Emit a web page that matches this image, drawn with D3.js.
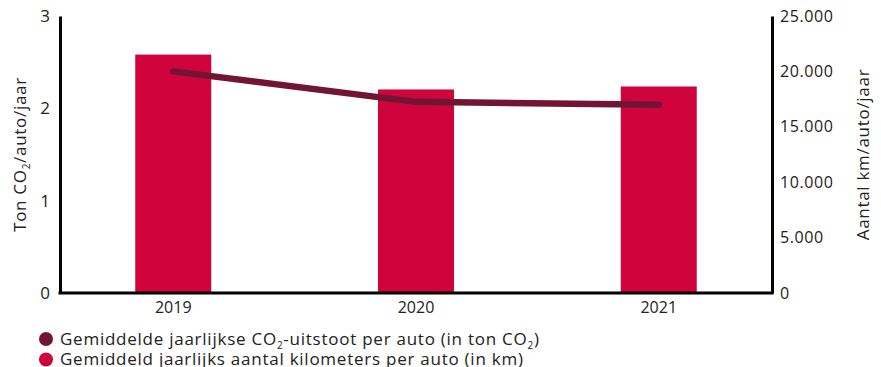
<!DOCTYPE html>
<html>
<head>
<meta charset="utf-8">
<script src="https://cdn.jsdelivr.net/npm/d3@7"></script>
<style>
  body { margin: 0; background: #fff; }
  svg text { font-family: "Open Sans", "Noto Sans", sans-serif; fill: #222; }
</style>
</head>
<body>
<div id="chart"></div>
<script>
// data
var years = ["2019", "2020", "2021"];
var kmPerCar = [21520, 18370, 18640];     // bars, right axis
var co2PerCar = [2.40, 2.07, 2.04];       // line, left axis
var leftTicks = [0, 1, 2, 3];
var rightTicks = [0, 5000, 10000, 15000, 20000, 25000];

const width = 881, height = 367;
const margin = {top: 16, right: 109, bottom: 74, left: 60};
const barColor = "#d0043c", lineColor = "#721535";

var svg = d3.select("#chart").append("svg")
  .attr("width", width)
  .attr("height", height);

var x = d3.scaleBand()
  .domain(years)
  .range([margin.left, width - margin.right])
  .paddingInner(0.687)
  .paddingOuter(0.31);

var yLeft = d3.scaleLinear().domain([0, 3]).range([height - margin.bottom, margin.top]);
var yRight = d3.scaleLinear().domain([0, 25000]).range([height - margin.bottom, margin.top]);

var fmt = function(d) { return d3.format(",")(d).replace(/,/g, "."); };

// bars
svg.append("g")
  .selectAll("rect")
  .data(years)
  .enter()
  .append("rect")
    .attr("x", function(d) { return x(d); })
    .attr("y", function(d, i) { return yRight(kmPerCar[i]); })
    .attr("width", x.bandwidth())
    .attr("height", function(d, i) { return yRight(0) - yRight(kmPerCar[i]); })
    .attr("fill", barColor);

// line
var line = d3.line()
  .x(function(d, i) { return x(years[i]) + x.bandwidth() / 2; })
  .y(function(d) { return yLeft(d); });

svg.append("path")
  .datum(co2PerCar)
  .attr("d", line)
  .attr("fill", "none")
  .attr("stroke", lineColor)
  .attr("stroke-width", 6.5)
  .attr("stroke-linecap", "round")
  .attr("stroke-linejoin", "round");

// axes
var axLeft = svg.append("g")
  .attr("transform", "translate(" + margin.left + ",0)")
  .call(d3.axisLeft(yLeft).tickValues(leftTicks).tickSize(0).tickPadding(10).tickFormat(d3.format("d")));
var axRight = svg.append("g")
  .attr("transform", "translate(" + (width - margin.right) + ",0)")
  .call(d3.axisRight(yRight).tickValues(rightTicks).tickSize(0).tickPadding(8).tickFormat(fmt));
var axBottom = svg.append("g")
  .attr("transform", "translate(0," + (height - margin.bottom) + ")")
  .call(d3.axisBottom(x).tickSize(0).tickPadding(9));

[axLeft, axRight, axBottom].forEach(function(g) {
  g.select(".domain").attr("stroke", "#000").attr("stroke-width", 3);
  g.selectAll("text").attr("font-size", 16).attr("fill", "#222")
    .style("font-family", "'Open Sans', sans-serif");
});
axLeft.selectAll("text").attr("font-size", 17);
axRight.selectAll("text").attr("letter-spacing", 0.6);
axBottom.select(".domain").attr("d", "M" + (margin.left - 1.5) + ",0H" + (width - margin.right + 1.5));

// axis titles
var midY = (margin.top + height - margin.bottom) / 2;
var tl = svg.append("text")
  .attr("transform", "translate(26," + midY + ") rotate(-90)")
  .attr("text-anchor", "middle")
  .attr("font-size", 17)
  .attr("letter-spacing", 0.7);
tl.append("tspan").text("Ton CO");
tl.append("tspan").text("2").attr("font-size", 10).attr("dy", 4);
tl.append("tspan").text("/auto/jaar").attr("dy", -4);

svg.append("text")
  .attr("transform", "translate(869," + midY + ") rotate(-90)")
  .attr("text-anchor", "middle")
  .attr("font-size", 17)
  .attr("letter-spacing", 0.7)
  .text("Aantal km/auto/jaar");

// legend
var legend = svg.append("g");
var items = [
  {color: lineColor, parts: [["Gemiddelde jaarlijkse CO", 0], ["2", 1], ["-uitstoot per auto (in ton CO", 0], ["2", 1], [")", 0]]},
  {color: barColor, parts: [["Gemiddeld jaarlijks aantal kilometers per auto (in km)", 0]]}
];
items.forEach(function(it, i) {
  var cy = 339 + i * 20.5;
  legend.append("circle").attr("cx", 46).attr("cy", cy).attr("r", 7).attr("fill", it.color);
  var t = legend.append("text").attr("x", 60).attr("y", cy + 5.5)
    .attr("font-size", 17).attr("letter-spacing", 0.75);
  var sub = 0;
  it.parts.forEach(function(p) {
    var dy = p[1] ? 4 - sub : -sub;
    sub = p[1] ? 4 : 0;
    t.append("tspan").text(p[0]).attr("font-size", p[1] ? 10 : 17).attr("dy", dy);
  });
});
</script>
</body>
</html>
